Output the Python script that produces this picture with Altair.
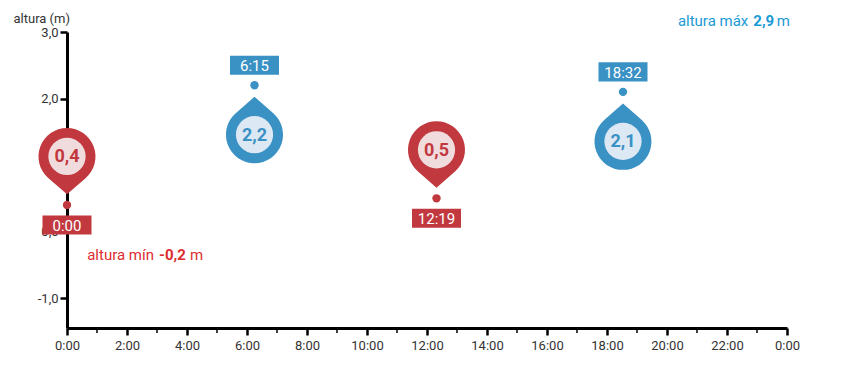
import altair as alt
import pandas as pd

# ---- data ----
times = ["0:00", "6:15", "12:19", "18:32"]
heights = [0.4, 2.2, 0.5, 2.1]
kinds = ["low", "high", "low", "high"]
x_tick_hours = [0, 2, 4, 6, 8, 10, 12, 14, 16, 18, 20, 22, 24]
minor_hours = [1, 3, 5, 7, 9, 11, 13, 15, 17, 19, 21, 23]
y_tick_values = [-1, 0, 1, 2, 3]
x_domain = [0, 24]
y_domain = [-1.45, 3.0]
max_label = ["altura máx", "2,9", "m"]
min_label = ["altura mín", "-0,2", "m"]


def to_hours(t):
    h, m = t.split(":")
    return int(h) + int(m) / 60


df = pd.DataFrame({
    "time": times,
    "hour": [to_hours(t) for t in times],
    "height": heights,
    "kind": kinds,
    "value": [f"{h:.1f}".replace(".", ",") for h in heights],
})
minor_df = pd.DataFrame({"hour": minor_hours})

FONT = "Roboto"
RED = "#c1393f"
RED_LIGHT = "#f1dcdd"
BLUE = "#3a91c4"
BLUE_LIGHT = "#dce8f3"

x_enc = alt.X(
    "hour:Q",
    scale=alt.Scale(domain=x_domain, nice=False, zero=False),
    axis=alt.Axis(
        values=x_tick_hours,
        labelExpr="(datum.value % 24) + ':00'",
        labelFlush=False, labelOverlap=False,
        title=None, grid=False, domainColor="#000", domainWidth=3,
        tickColor="#000", tickWidth=2.5, tickSize=7, labelPadding=4,
        labelFont=FONT, labelFontSize=13, labelColor="#333", zindex=0,
    ),
)
y_enc = alt.Y(
    "height:Q",
    scale=alt.Scale(domain=y_domain, nice=False, zero=False),
    axis=alt.Axis(
        values=y_tick_values,
        labelExpr="replace(replace(format(datum.value, '.1f'), '.', ','), '\u2212', '-')",
        title="altura (m)", titleAngle=0, titleAlign="left", titleX=-54,
        titleY=-10, titleBaseline="alphabetic", titleFontWeight="normal",
        titleFontSize=13, titleColor="#333", titleFont=FONT,
        grid=False, domainColor="#000", domainWidth=3,
        tickColor="#000", tickWidth=2.5, tickSize=7, labelPadding=2,
        labelFont=FONT, labelFontSize=13, labelColor="#333", zindex=0,
    ),
)

PIN_DOWN = "M0,1.33L0.659,0.752A1,1,0,1,0,-0.659,0.752Z"
PIN_UP = "M0,-1.33L0.659,-0.752A1,1,0,1,1,-0.659,-0.752Z"
RECT = "M-1,-0.39L1,-0.39L1,0.39L-1,0.39Z"

PIN_SIZE = 57 * 57
INNER_SIZE = 3.14159 * 21 * 21
DOT_SIZE = 3.14159 * 4.7 * 4.7
RECT_SIZE = 49 * 49

layers = []

minor = alt.Chart(minor_df).mark_rule(color="#000", strokeWidth=1.5).encode(
    x=x_enc, y=alt.value(296), y2=alt.value(301)
)
layers.append(minor)


def tide_layers(kind, color, light, pin_shape, pin_off, lab_off):
    base = alt.Chart(df).transform_filter(alt.datum.kind == kind).encode(x=x_enc, y=y_enc)
    return [
        base.mark_point(shape=pin_shape, size=PIN_SIZE, filled=True, opacity=1,
                        color=color, strokeWidth=0, yOffset=pin_off),
        base.mark_point(shape="circle", size=INNER_SIZE, filled=True, opacity=1,
                        color=light, strokeWidth=0, yOffset=pin_off),
        base.mark_text(font=FONT, fontSize=18, fontWeight="bold", color=color,
                       baseline="middle", align="center", yOffset=pin_off + 1).encode(text="value:N"),
        base.mark_point(shape="circle", size=DOT_SIZE, filled=True, opacity=1,
                        color=color, strokeWidth=0),
        base.mark_point(shape=RECT, size=RECT_SIZE, filled=True, opacity=1,
                        color=color, strokeWidth=0, yOffset=lab_off),
        base.mark_text(font=FONT, fontSize=15, color="white",
                       baseline="middle", align="center", yOffset=lab_off + 1).encode(text="time:N"),
    ]


layers += tide_layers("low", RED, RED_LIGHT, PIN_DOWN, -48.5, 20)
layers += tide_layers("high", BLUE, BLUE_LIGHT, PIN_UP, 49.5, -20)

one = pd.DataFrame({"a": [0]})
MAXC = "#1a9ad6"
MINC = "#dd2c2f"
ann = [
    (max_label[0], "normal", MAXC, 681.3, -6.3, "right"),
    (max_label[1], "bold", MAXC, 686.3, -6.3, "left"),
    (max_label[2], "normal", MAXC, 709.7, -6.3, "left"),
    (min_label[0], "normal", MINC, 87.0, 228, "right"),
    (min_label[1], "bold", MINC, 92, 228, "left"),
    (min_label[2], "normal", MINC, 123, 228, "left"),
]
for txt, fw, col, xx, yy, al in ann:
    layers.append(
        alt.Chart(one).mark_text(text=txt, font=FONT, fontSize=15, fontWeight=fw,
                                 color=col, align=al, baseline="alphabetic")
        .encode(x=alt.value(xx), y=alt.value(yy))
    )

chart = alt.layer(*layers).properties(
    width=720, height=296,
    padding={"left": 59, "top": 24, "right": 69, "bottom": 31},
    autosize="none",
).configure_view(stroke=None)

chart.save("out.html", embed_options={"renderer": "svg", "actions": False})
